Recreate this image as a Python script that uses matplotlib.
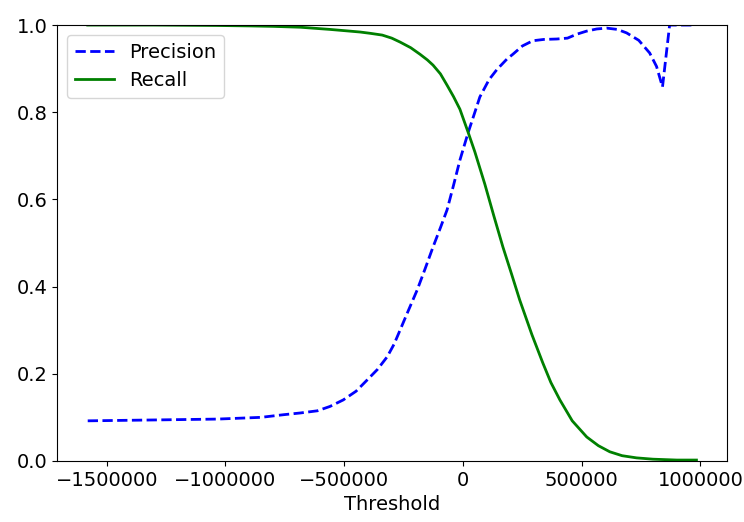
import matplotlib
matplotlib.use('Agg')
import matplotlib.pyplot as plt

# values
prec_thr = [-1580000, -1300000, -1034000, -850000, -756000, -685000, -613000, -560000,
            -504000, -450000, -403000, -360000, -319000, -290000, -265000, -230000,
            -193000, -160000, -126000, -95000, -67000, -40000, -13000, 21000, 50000,
            71000, 110000, 143000, 185000, 210000, 250000, 294000, 340000, 395000,
            440000, 479000, 520000, 563000, 605000, 650000, 689000, 740000, 786000,
            815000, 840000, 870000, 920000, 980000]
precision = [0.092, 0.094, 0.096, 0.100, 0.106, 0.110, 0.115, 0.125,
             0.140, 0.160, 0.186, 0.210, 0.239, 0.268, 0.300, 0.345,
             0.392, 0.440, 0.491, 0.535, 0.576, 0.632, 0.690, 0.752, 0.800,
             0.835, 0.875, 0.898, 0.922, 0.933, 0.952, 0.964, 0.967, 0.968,
             0.970, 0.979, 0.986, 0.991, 0.993, 0.990, 0.982, 0.965, 0.936,
             0.905, 0.858, 1.0, 1.0, 1.0]

rec_thr = [-1580000, -1300000, -1034000, -895000, -800000, -685000, -560000, -475000,
           -433000, -390000, -340000, -300000, -265000, -220000, -181000, -150000,
           -126000, -95000, -67000, -40000, -13000, 21000, 50000, 92000, 130000,
           168000, 205000, 239000, 290000, 336000, 370000, 408000, 460000, 521000,
           570000, 618000, 670000, 731000, 800000, 900000, 983000]
recall = [1.0, 1.0, 0.999, 0.998, 0.997, 0.995, 0.990, 0.986,
          0.984, 0.981, 0.977, 0.970, 0.961, 0.948, 0.933, 0.920,
          0.908, 0.888, 0.862, 0.836, 0.807, 0.755, 0.709, 0.635, 0.562,
          0.491, 0.428, 0.369, 0.290, 0.225, 0.180, 0.140, 0.092, 0.055,
          0.035, 0.021, 0.012, 0.007, 0.004, 0.002, 0.002]

fig = plt.figure(figsize=(7.44, 5.22), dpi=100)
ax = fig.add_axes([0.077, 0.117, 0.9, 0.835])

ax.plot(prec_thr, precision, 'b--', linewidth=2, label='Precision')
ax.plot(rec_thr, recall, 'g-', linewidth=2, label='Recall')

ax.set_ylim(0, 1)
ax.set_xlabel('Threshold', fontsize=14)
ax.tick_params(labelsize=14)
ax.ticklabel_format(axis='x', style='plain')
ax.legend(loc='upper left', fontsize=14)

fig.savefig('out.png', dpi=100)
